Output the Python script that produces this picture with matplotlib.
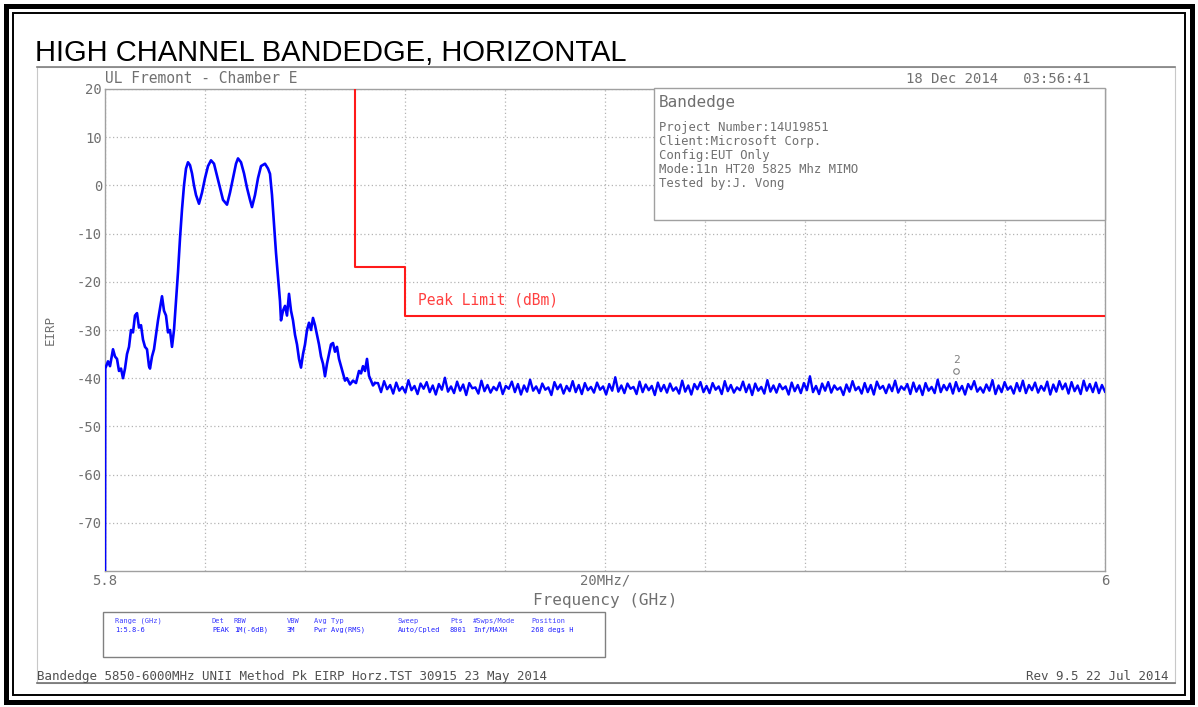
import numpy as np
from matplotlib import pyplot as plt
from matplotlib.patches import Rectangle
from matplotlib.lines import Line2D

# trace (MHz, dBm)
sig_mhz = [5800.0, 5800.05, 5800.6, 5801.0, 5801.6, 5802.0, 5802.4, 5802.8, 5803.2, 5803.6,
           5804.0, 5804.4, 5804.8, 5805.2, 5805.6, 5806.0, 5806.4, 5806.8, 5807.2, 5807.6,
           5808.0, 5808.4, 5808.8, 5809.0, 5809.4, 5809.8, 5810.2, 5810.6, 5811.0, 5811.4,
           5811.8, 5812.2, 5812.6, 5813.0, 5813.4, 5813.8, 5814.2, 5814.6, 5815.0, 5815.4,
           5815.8, 5816.2, 5816.6, 5817.0, 5817.4, 5817.8, 5818.2, 5818.8, 5819.4, 5820.0,
           5820.6, 5821.2, 5821.8, 5822.4, 5823.0, 5823.6, 5824.4, 5825.0, 5825.6, 5826.2,
           5826.6, 5827.2, 5827.8, 5828.4, 5829.0, 5829.4, 5830.0, 5830.6, 5831.2, 5832.0,
           5832.6, 5833.0, 5833.4, 5833.8, 5834.2, 5834.6, 5835.0, 5835.2, 5835.6, 5836.0,
           5836.4, 5836.8, 5837.2, 5837.6, 5838.0, 5838.4, 5838.8, 5839.2, 5839.6, 5840.0,
           5840.4, 5840.8, 5841.2, 5841.6, 5842.0, 5842.4, 5842.8, 5843.2, 5843.6, 5844.0,
           5844.4, 5844.8, 5845.2, 5845.6, 5846.0, 5846.4, 5846.8, 5847.2, 5847.6, 5848.0,
           5848.4, 5849.0, 5849.6, 5850.2, 5850.8, 5851.2, 5851.6, 5852.0, 5852.4, 5852.8,
           5853.2, 5853.6, 5854.0]
sig_db = [-82, -38, -36.5, -37.5, -34, -35.5, -36, -38.5, -38, -40,
          -38, -35, -33.5, -30, -30.5, -27, -26.5, -29.5, -29, -32,
          -33.5, -34, -37.5, -38, -35.5, -34, -31, -28, -25.5, -23,
          -26, -27, -30.5, -30, -33.5, -30, -24, -18, -11, -5,
          0, 3.5, 4.8, 4.2, 2.5, 0, -2, -3.8, -1.5, 1.5,
          4, 5.2, 4.5, 2, -0.5, -3, -4, -1.5, 1.5, 4.5,
          5.6, 4.8, 2.5, -0.5, -3, -4.5, -2, 1.5, 4, 4.5,
          3.5, 2.4, -2, -8, -14, -19, -24, -28, -26, -25,
          -27, -22.5, -26, -28, -31, -33, -36, -37.8, -35, -33,
          -30, -28.5, -30, -27.5, -29, -31, -33, -35.5, -37, -39.6,
          -37, -35, -33, -32.7, -34.5, -33.5, -36, -37.5, -39, -40.5,
          -40, -41.3, -40.5, -41, -38.5, -39, -37.5, -38.5, -36, -39.5,
          -40.5, -41.5, -41.0]

# noise floor, 5.8544 - 6.0 GHz
noise_db = [
    -41.0, -42.9, -40.6, -42.3, -41.4, -43.2, -40.9, -42.6, -41.8, -43.0, -40.4, -42.5,
    -41.6, -43.3, -41.1, -42.2, -40.8, -42.9, -41.5, -43.4, -41.2, -42.4, -39.9, -42.8,
    -41.7, -43.1, -40.7, -42.6, -41.3, -43.5, -41.0, -42.1, -41.9, -43.2, -40.5, -42.7,
    -41.4, -43.0, -41.8, -42.5, -40.9, -43.3, -41.6, -42.2, -40.7, -42.9, -41.2, -43.4,
    -41.5, -42.8, -40.3, -42.6, -41.7, -43.1, -41.1, -42.4, -41.9, -43.5, -40.8, -42.3,
    -41.3, -43.2, -41.6, -42.7, -40.6, -42.9, -41.4, -43.3, -41.0, -42.5, -41.8, -43.0,
    -40.9, -42.4, -41.7, -43.4, -41.2, -42.6, -39.8, -42.8, -41.5, -43.1, -41.1, -42.2,
    -41.8, -43.3, -40.7, -42.9, -41.3, -42.5, -41.6, -43.5, -40.9, -42.7, -41.4, -43.0,
    -41.1, -42.6, -41.9, -43.2, -40.5, -42.8, -41.5, -43.4, -41.2, -42.3, -40.8, -42.9,
    -41.6, -43.1, -41.0, -42.4, -41.7, -43.3, -40.6, -42.7, -41.4, -43.0, -41.9, -42.5,
    -40.7, -42.9, -41.3, -43.5, -41.1, -42.6, -41.8, -43.2, -40.4, -42.8, -41.5, -43.0,
    -41.2, -42.3, -41.7, -43.4, -40.9, -42.7, -41.4, -43.1, -41.0, -42.5, -39.6, -42.9,
    -41.6, -43.3, -41.1, -42.6, -40.8, -43.0, -41.5, -42.4, -41.9, -43.5, -41.3, -42.8,
    -40.6, -42.5, -41.8, -43.2, -41.0, -42.9, -41.4, -43.4, -40.7, -42.2, -41.6, -43.1,
    -41.3, -42.7, -40.5, -43.0, -41.7, -42.4, -41.2, -43.3, -40.9, -42.8, -41.5, -43.5,
    -41.0, -42.6, -41.8, -43.1, -40.3, -42.9, -41.4, -42.5, -41.1, -43.2, -40.8, -42.7,
    -41.6, -43.4, -41.2, -42.3, -40.6, -42.8, -41.9, -43.0, -41.3, -42.6, -40.4, -43.3,
    -41.5, -42.9, -40.8, -42.4, -41.7, -43.2, -41.0, -42.7, -40.5, -43.1, -41.4, -42.5,
    -40.9, -43.0, -41.6, -42.6, -40.7, -43.4, -41.3, -42.8, -40.6, -42.3, -41.1, -43.2,
    -40.8, -42.7, -41.5, -43.3, -40.5, -42.6, -41.2, -42.9, -40.9, -43.1, -41.4, -42.8,
]

limit_ghz = [5.85, 5.85, 5.86, 5.86, 6.0]
limit_db = [20, -17, -17, -27, -27]

marker_ghz = 5.9702
marker_db = -38.5

ytick_vals = [20, 10, 0, -10, -20, -30, -40, -50, -60, -70]
xtick_labels = ['5.8', '', '', '', '', '20MHz/', '', '', '', '', '6']

info_lines = ['Project Number:14U19851', 'Client:Microsoft Corp.', 'Config:EUT Only',
              'Mode:11n HT20 5825 Mhz MIMO', 'Tested by:J. Vong']
tbl_head = ['Range (GHz)', 'Det', 'RBW', 'VBW', 'Avg Typ', 'Sweep', 'Pts', '#Swps/Mode', 'Position']
tbl_vals = ['1:5.8-6', 'PEAK', '1M(-6dB)', '3M', 'Pwr Avg(RMS)', 'Auto/Cpled', '8001', 'Inf/MAXH', '268 degs H']
tbl_x = [115, 212, 234, 287, 314, 398, 450, 473, 531]

W, H = 1198, 707
def fx(x):
    return x / W
def fy(y):
    return 1 - y / H

mono = 'DejaVu Sans Mono'
grey = '#707070'

fig = plt.figure(figsize=(W / 100, H / 100), dpi=100)

# outer frames
fig.add_artist(Rectangle((fx(6), fy(702)), fx(1192) - fx(6), fy(6) - fy(702),
                         fill=False, lw=3.6, ec='black'))
fig.add_artist(Rectangle((fx(13), fy(695)), fx(1185) - fx(13), fy(13) - fy(695),
                         fill=False, lw=1.4, ec='black'))
fig.add_artist(Rectangle((fx(37), fy(683)), fx(1175) - fx(37), fy(67) - fy(683),
                         fill=False, lw=0.8, ec='#c8c8c8'))
fig.add_artist(Line2D([fx(37), fx(1175)], [fy(67), fy(67)], lw=1.2, color='#808080'))
fig.add_artist(Line2D([fx(37), fx(1175)], [fy(683), fy(683)], lw=1.2, color='#707070'))

fig.text(fx(35), fy(61), 'HIGH CHANNEL BANDEDGE, HORIZONTAL', fontsize=21,
         family='Liberation Sans', va='baseline', ha='left')

ax = fig.add_axes([fx(105), fy(571), fx(1105) - fx(105), fy(89) - fy(571)])
ax.set_xlim(5.8, 6.0)
ax.set_ylim(-80, 20)

ax.set_xticks(np.linspace(5.8, 6.0, 11))
ax.set_xticklabels(xtick_labels)
ax.set_yticks(ytick_vals)
ax.set_yticklabels([str(v) for v in ytick_vals])
ax.tick_params(length=0, colors=grey, labelsize=10, pad=2)
for lab in ax.get_xticklabels() + ax.get_yticklabels():
    lab.set_family(mono)
ax.grid(True, color='#b4b4b4', lw=0.9, ls=(0, (1, 2)))
for s in ax.spines.values():
    s.set_color('#a0a0a0')
    s.set_linewidth(1.0)

sig_ghz = np.array(sig_mhz) / 1000.0
noise_ghz = np.linspace(5.8546, 6.0, len(noise_db))
ax.plot(sig_ghz, sig_db, color='#0000ff', lw=1.9, zorder=3)
ax.plot(np.concatenate([sig_ghz[-1:], noise_ghz]), np.concatenate([sig_db[-1:], noise_db]),
        color='#0000ff', lw=1.7, zorder=3)

ax.plot(limit_ghz, limit_db, color='#ff1a1a', lw=1.5, zorder=4)
ax.text(5.8626, -23.7, 'Peak Limit (dBm)', color='#ff4040', fontsize=10.5,
        family=mono, va='center', ha='left')

ax.plot([marker_ghz], [marker_db], marker='o', ms=4, mfc='none', mec='#808080', mew=0.8, zorder=5)
ax.text(marker_ghz, marker_db + 1.2, '2', color='#808080', fontsize=8, family=mono,
        ha='center', va='bottom', zorder=5)

# info box
fig.add_artist(Rectangle((fx(654), fy(220)), fx(1105) - fx(654), fy(88) - fy(220),
                         fill=True, fc='white', lw=1.0, ec='#a0a0a0', zorder=5))
fig.text(fx(659), fy(103), 'Bandedge', fontsize=11.5, family=mono, color=grey,
         va='center', zorder=6)
for i, line in enumerate(info_lines):
    fig.text(fx(659), fy(128 + 13.8 * i), line, fontsize=8.8, family=mono, color=grey,
             va='center', zorder=6)

fig.text(fx(105), fy(83), 'UL Fremont - Chamber E', fontsize=10.5, family=mono,
         color=grey, va='baseline')
fig.text(fx(1090), fy(83), '18 Dec 2014   03:56:41', fontsize=10, family=mono,
         color=grey, va='baseline', ha='right')
fig.text(fx(50), fy(330), 'EIRP', fontsize=9, family=mono, color=grey,
         rotation=90, va='center', ha='center')
fig.text(fx(605), fy(601), 'Frequency (GHz)', fontsize=11.5, family=mono, color=grey,
         va='center', ha='center')

# settings table
fig.add_artist(Rectangle((fx(103), fy(657)), fx(605) - fx(103), fy(612) - fy(657),
                         fill=False, lw=1.0, ec='#808080'))
for x, h, v in zip(tbl_x, tbl_head, tbl_vals):
    fig.text(fx(x), fy(621), h, fontsize=5, family=mono, color='#4040ff', va='center')
    fig.text(fx(x), fy(630), v, fontsize=5, family=mono, color='#2020ff', va='center')

fig.text(fx(37), fy(680), 'Bandedge 5850-6000MHz UNII Method Pk EIRP Horz.TST 30915 23 May 2014',
         fontsize=9, family=mono, color='#505050', va='baseline')
fig.text(fx(1168), fy(680), 'Rev 9.5 22 Jul 2014', fontsize=9, family=mono,
         color='#505050', va='baseline', ha='right')

fig.savefig('out.png', dpi=100)
